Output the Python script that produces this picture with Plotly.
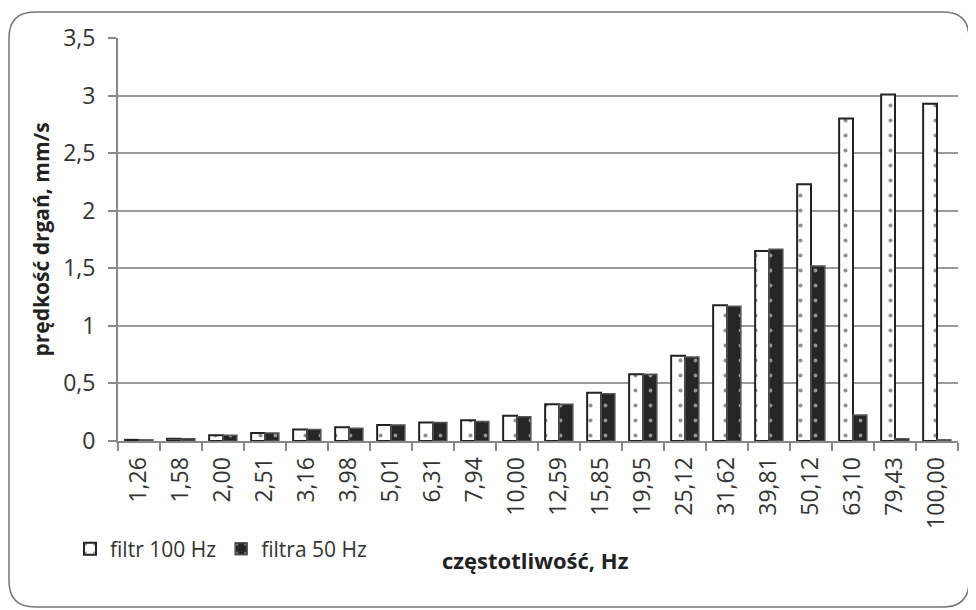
import plotly.graph_objects as go

categories = ["1,26", "1,58", "2,00", "2,51", "3,16", "3,98", "5,01", "6,31", "7,94", "10,00",
              "12,59", "15,85", "19,95", "25,12", "31,62", "39,81", "50,12", "63,10", "79,43", "100,00"]
filtr_100 = [0.01, 0.02, 0.05, 0.07, 0.10, 0.12, 0.14, 0.16, 0.18, 0.22,
             0.32, 0.42, 0.58, 0.74, 1.18, 1.65, 2.23, 2.80, 3.01, 2.93]
filtra_50 = [0.01, 0.02, 0.05, 0.07, 0.10, 0.11, 0.14, 0.16, 0.17, 0.21,
             0.32, 0.41, 0.58, 0.73, 1.17, 1.665, 1.52, 0.225, 0.02, 0.01]
y_ticks = [0, 0.5, 1, 1.5, 2, 2.5, 3, 3.5]
y_tick_text = ["0", "0,5", "1", "1,5", "2", "2,5", "3", "3,5"]

OFF = 8  # page body margin
W, H = 976 - OFF, 610 - OFF
# plot area in screen pixels: x 118..958, y 38..441
L, R, T, B = 118 - OFF, 976 - 958, 38 - OFF, 610 - 441
pw, ph = W - L - R, H - T - B

FONT = "Open Sans"

fig = go.Figure()
fig.add_trace(go.Bar(
    x=categories, y=filtr_100, name="filtr 100 Hz",
    marker=dict(color="white", line=dict(color="#222", width=2),
                pattern=dict(shape=".", fgcolor="#222", bgcolor="white", size=15, solidity=0.06)),
))
fig.add_trace(go.Bar(
    x=categories, y=filtra_50, name="filtra 50 Hz",
    marker=dict(color="#262626", line=dict(color="#555", width=1.5),
                pattern=dict(shape=".", fgcolor="white", bgcolor="#262626", size=15, solidity=0.05)),
))

def px2paper(x, y):
    # x, y in screen pixels
    return (x - OFF - L) / pw, (H - B - (y - OFF)) / ph

x0, y0, x1, y1, r = 9, 12, 969, 607, 26
def P(x, y):
    a, b = px2paper(x, y)
    return f"{a:.5f},{b:.5f}"
path = (f"M {P(x0 + r, y0)} L {P(x1 - r, y0)} Q {P(x1, y0)} {P(x1, y0 + r)} "
        f"L {P(x1, y1 - r)} Q {P(x1, y1)} {P(x1 - r, y1)} L {P(x0 + r, y1)} "
        f"Q {P(x0, y1)} {P(x0, y1 - r)} L {P(x0, y0 + r)} Q {P(x0, y0)} {P(x0 + r, y0)} Z")
fig.add_shape(type="path", path=path, xref="paper", yref="paper",
              line=dict(color="#777", width=1.5), layer="below")

lx, ly = px2paper(70, 549)
tx, ty = px2paper(535, 560)
fig.update_layout(
    width=W, height=H,
    margin=dict(l=L, r=R, t=T, b=B, autoexpand=False),
    paper_bgcolor="white", plot_bgcolor="white",
    barmode="group", bargap=0.34, bargroupgap=0.0,
    font=dict(family=FONT, color="#333", size=21),
    showlegend=True,
    legend=dict(orientation="h", x=lx, y=ly, xanchor="left", yanchor="middle",
                font=dict(size=21, color="#333"), itemwidth=30, traceorder="normal",
                bgcolor="rgba(0,0,0,0)"),
    xaxis=dict(type="category", tickangle=-90, ticks="outside", ticklen=8, tickcolor="#888",
               tickwidth=1.5, tickson="boundaries", showline=True, linecolor="#888", linewidth=2,
               tickfont=dict(size=23, color="#333"), showgrid=False, ticklabelstandoff=5),
    yaxis=dict(range=[0, 3.5], tickvals=y_ticks, ticktext=y_tick_text, ticks="outside",
               ticklen=8, tickcolor="#888", tickwidth=1.5, showgrid=True, gridcolor="#999",
               gridwidth=1.5, showline=True, linecolor="#888", linewidth=2, zeroline=False,
               tickfont=dict(size=23, color="#333"), ticklabelstandoff=8,
               title=dict(text="<b>prędkość drgań, mm/s</b>", font=dict(size=21, color="#222"),
                          standoff=8)),
    annotations=[dict(text="<b>częstotliwość, Hz</b>", x=tx, y=ty, xref="paper", yref="paper",
                      xanchor="center", yanchor="middle", showarrow=False,
                      font=dict(size=22, color="#222"))],
)
fig.write_html("out.html")
